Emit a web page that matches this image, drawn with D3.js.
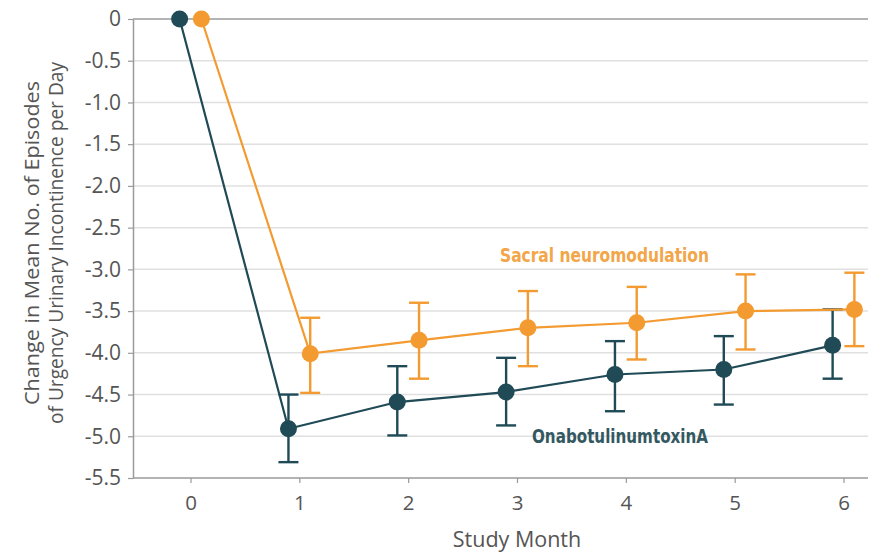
<!DOCTYPE html>
<html>
<head>
<meta charset="utf-8">
<script src="https://cdn.jsdelivr.net/npm/d3@7"></script>
<style>
  html, body { margin: 0; padding: 0; background: #fff; }
  svg { display: block; }
</style>
</head>
<body>
<svg id="chart" width="877" height="555"></svg>
<script>
// Study months and mean change in daily urgency incontinence episodes
const months = [0, 1, 2, 3, 4, 5, 6];
const botoxMean  = [0, -4.91, -4.59, -4.47, -4.26, -4.20, -3.91];
const botoxLow   = [null, -5.31, -4.99, -4.87, -4.70, -4.62, -4.31];
const botoxHigh  = [null, -4.50, -4.16, -4.06, -3.86, -3.80, -3.48];
const snmMean    = [0, -4.01, -3.85, -3.70, -3.64, -3.50, -3.48];
const snmLow     = [null, -4.48, -4.31, -4.16, -4.08, -3.96, -3.92];
const snmHigh    = [null, -3.58, -3.40, -3.26, -3.21, -3.06, -3.04];
const yTicks = [0, -0.5, -1.0, -1.5, -2.0, -2.5, -3.0, -3.5, -4.0, -4.5, -5.0, -5.5];

const svg = d3.select("#chart");
const plotLeft = 133, plotRight = 868, plotTop = 19, plotBottom = 478;

const x = d3.scaleLinear().domain([0, 6]).range([190.5, 843.5]);
const y = d3.scaleLinear().domain([0, -5.5]).range([plotTop, plotBottom]);

const tickFont = "'Open Sans', 'Noto Sans', sans-serif";
const labelFont = "'Liberation Sans Narrow', 'DejaVu Sans Condensed', 'Open Sans', sans-serif";

// Horizontal gridlines
svg.append("g").selectAll("line")
  .data(yTicks.filter(d => d !== 0 && d !== -5.5))
  .join("line")
  .attr("x1", plotLeft).attr("x2", plotRight)
  .attr("y1", d => y(d)).attr("y2", d => y(d))
  .attr("stroke", "#e0e0e0").attr("stroke-width", 1.5);

// Zero reference line
svg.append("line")
  .attr("x1", plotLeft).attr("x2", plotRight)
  .attr("y1", y(0)).attr("y2", y(0))
  .attr("stroke", "#9a9a9a").attr("stroke-width", 1.5);

// Y axis
const yAxis = svg.append("g")
  .attr("transform", `translate(${plotLeft},0)`)
  .call(d3.axisLeft(y).tickValues(yTicks).tickSize(5).tickSizeOuter(0)
    .tickFormat(d => d === 0 ? "0" : d3.format(".1f")(d).replace("−", "-")));
yAxis.select(".domain").attr("stroke", "#9a9a9a").attr("stroke-width", 1.5);
yAxis.selectAll(".tick line").attr("stroke", "#9a9a9a").attr("stroke-width", 1.2);
yAxis.selectAll(".tick text")
  .attr("x", -12)
  .attr("font-family", tickFont).attr("font-size", 21).attr("fill", "#555");

// X axis
const xAxisG = svg.append("g")
  .attr("transform", `translate(0,${plotBottom})`)
  .call(d3.axisBottom(x).tickValues(months).tickSize(5).tickSizeOuter(0).tickFormat(d3.format("d")));
xAxisG.select(".domain").remove();
xAxisG.append("line")
  .attr("x1", plotLeft).attr("x2", plotRight)
  .attr("stroke", "#9a9a9a").attr("stroke-width", 1.5);
xAxisG.selectAll(".tick line").attr("stroke", "#9a9a9a").attr("stroke-width", 1.2);
xAxisG.selectAll(".tick text")
  .attr("y", 17)
  .attr("font-family", tickFont).attr("font-size", 20.5).attr("fill", "#555");

// Axis titles
svg.append("text")
  .attr("x", 517).attr("y", 547)
  .attr("text-anchor", "middle")
  .attr("font-family", tickFont).attr("font-size", 21.5).attr("fill", "#555")
  .text("Study Month");

const yTitle = svg.append("text")
  .attr("transform", "translate(0,243) rotate(-90)")
  .attr("text-anchor", "middle")
  .attr("font-family", tickFont).attr("font-size", 20.5).attr("fill", "#555");
yTitle.append("tspan").attr("x", 0).attr("y", 39)
  .attr("textLength", 324).attr("lengthAdjust", "spacingAndGlyphs")
  .text("Change in Mean No. of Episodes");
yTitle.append("tspan").attr("x", 0).attr("y", 63)
  .attr("textLength", 362).attr("lengthAdjust", "spacingAndGlyphs")
  .text("of Urgency Urinary Incontinence per Day");

// Series
const series = [
  { name: "OnabotulinumtoxinA", mean: botoxMean, low: botoxLow, high: botoxHigh,
    offset: -0.1, color: "#1f4a56", labelColor: "#34585f" },
  { name: "Sacral neuromodulation", mean: snmMean, low: snmLow, high: snmHigh,
    offset: 0.1, color: "#f39a30", labelColor: "#f2a649" }
];

const line = d3.line().x(d => x(d.m)).y(d => y(d.v));

series.forEach(s => {
  const pts = months.map((m, i) => ({ m: m + s.offset, v: s.mean[i], lo: s.low[i], hi: s.high[i] }));
  const g = svg.append("g");

  g.append("path").datum(pts)
    .attr("d", line)
    .attr("fill", "none").attr("stroke", s.color).attr("stroke-width", 2.2);

  const bars = pts.filter(p => p.lo !== null);
  g.selectAll("line.whisker").data(bars).join("line")
    .attr("class", "whisker")
    .attr("x1", d => x(d.m)).attr("x2", d => x(d.m))
    .attr("y1", d => y(d.hi)).attr("y2", d => y(d.lo))
    .attr("stroke", s.color).attr("stroke-width", 2.4);
  ["hi", "lo"].forEach(k => {
    g.selectAll("line.cap-" + k).data(bars).join("line")
      .attr("class", "cap-" + k)
      .attr("x1", d => x(d.m) - 10).attr("x2", d => x(d.m) + 10)
      .attr("y1", d => y(d[k])).attr("y2", d => y(d[k]))
      .attr("stroke", s.color).attr("stroke-width", 2.4);
  });

  g.selectAll("circle").data(pts).join("circle")
    .attr("cx", d => x(d.m)).attr("cy", d => y(d.v))
    .attr("r", 8.5).attr("fill", s.color);
});

// Series labels
svg.append("text")
  .attr("x", 500).attr("y", 262)
  .attr("font-family", labelFont).attr("font-size", 19).attr("font-weight", "bold")
  .attr("fill", series[1].labelColor)
  .attr("textLength", 209).attr("lengthAdjust", "spacingAndGlyphs")
  .text("Sacral neuromodulation");

svg.append("text")
  .attr("x", 532).attr("y", 443)
  .attr("font-family", labelFont).attr("font-size", 19).attr("font-weight", "bold")
  .attr("fill", series[0].labelColor)
  .attr("textLength", 176).attr("lengthAdjust", "spacingAndGlyphs")
  .text("OnabotulinumtoxinA");
</script>
</body>
</html>
